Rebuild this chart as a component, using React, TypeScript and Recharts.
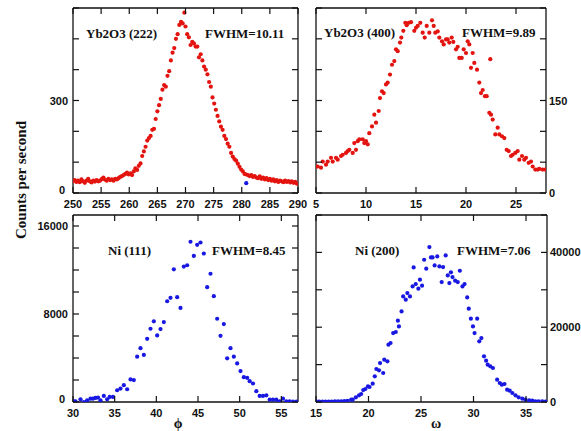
import React from 'react';
import { ScatterChart, Scatter, XAxis, YAxis } from 'recharts';

// ---------- Panel 1: Yb2O3 (222) ----------
const yb222Angle = [
  250.0, 250.3, 250.6, 250.9, 251.2, 251.5, 251.8, 252.1, 252.4, 252.7,
  253.0, 253.3, 253.6, 253.9, 254.2, 254.5, 254.8, 255.1, 255.4, 255.7,
  256.0, 256.3, 256.6, 256.9, 257.2, 257.5, 257.8, 258.1, 258.4, 258.7,
  259.0, 259.3, 259.6, 259.9, 260.2, 260.5, 260.8, 261.1, 261.4, 261.7,
  262.0, 262.3, 262.6, 262.9, 263.2, 263.5, 263.8, 264.1, 264.4, 264.7,
  265.0, 265.3, 265.6, 265.9, 266.2, 266.5, 266.8, 267.1, 267.4, 267.7,
  268.0, 268.3, 268.6, 268.9, 269.2, 269.5, 269.8, 270.0, 270.3, 270.6,
  270.9, 271.2, 271.5, 271.8, 272.1, 272.4, 272.7, 273.0, 273.3, 273.6,
  273.9, 274.2, 274.5, 274.8, 275.1, 275.4, 275.7, 276.0, 276.3, 276.6,
  276.9, 277.2, 277.5, 277.8, 278.1, 278.4, 278.7, 279.0, 279.3, 279.6,
  279.9, 280.2, 280.5, 280.8, 281.1, 281.4, 281.7, 282.0, 282.3, 282.6,
  282.9, 283.2, 283.5, 283.8, 284.1, 284.4, 284.7, 285.0, 285.3, 285.6,
  285.9, 286.2, 286.5, 286.8, 287.1, 287.4, 287.7, 288.0, 288.3, 288.6,
  288.9, 289.2, 289.5, 289.8,
];
const yb222Counts = [
  38, 42, 36, 40, 35, 44, 38, 33, 40, 46,
  38, 34, 40, 37, 42, 38, 40, 45, 50, 43,
  40, 46, 42, 44, 40, 46, 44, 48, 52, 55,
  58, 62, 66, 60, 64, 58, 70, 80, 75, 88,
  96, 120, 135, 150, 170, 178, 185, 205, 208, 240,
  265, 285, 305, 335, 350, 345, 380, 395, 430, 455,
  470, 500, 515, 545, 555, 550, 585, 540, 515, 505,
  480, 490, 485, 475, 475, 440, 450, 430, 410, 400,
  385, 360, 345, 310, 290, 270, 250, 232, 215, 205,
  185, 175, 160, 150, 130, 118, 110, 105, 95, 85,
  76, 70, 62, 60, 58, 55, 58, 52, 55, 50,
  48, 54, 46, 50, 44, 48, 42, 46, 40, 44,
  38, 42, 36, 40, 38, 35, 40, 36, 39, 34,
  38, 33, 36, 30,
];
const yb222StrayAngle = [280.8];
const yb222StrayCounts = [32];
const yb222XTicks = [250, 255, 260, 265, 270, 275, 280, 285, 290];
const yb222YTicks = [0, 100, 200, 300, 400, 500, 600];
const yb222YLabels = [0, 300];

// ---------- Panel 2: Yb2O3 (400) ----------
const yb400Angle = [
  5.0, 5.17, 5.5, 5.67, 6.0, 6.17, 6.5, 6.67, 7.0, 7.17,
  7.5, 7.67, 8.0, 8.17, 8.33, 8.67, 8.83, 9.0, 9.17, 9.33,
  9.67, 9.83, 10.0, 10.17, 10.33, 10.6, 10.83, 11.0, 11.27, 11.4,
  11.6, 11.77, 12.0, 12.17, 12.4, 12.6, 12.83, 13.0, 13.17, 13.4,
  13.53, 13.73, 13.93, 14.07, 14.27, 14.5, 14.83, 15.0, 15.17, 15.43,
  15.67, 15.87, 16.07, 16.33, 16.6, 16.77, 16.93, 17.17, 17.33, 17.6,
  17.77, 18.0, 18.17, 18.33, 18.57, 18.73, 19.0, 19.17, 19.33, 19.57,
  19.77, 20.0, 20.17, 20.33, 20.5, 20.67, 20.83, 21.1, 21.33, 21.5,
  21.67, 21.9, 22.07, 22.33, 22.43, 22.5, 22.67, 22.93, 23.17, 23.33,
  23.6, 23.83, 24.07, 24.27, 24.5, 24.67, 24.93, 25.17, 25.33, 25.6,
  25.83, 26.0, 26.27, 26.5, 26.67, 26.93, 27.17, 27.33, 27.67, 27.93,
];
const yb400Counts = [
  43, 43, 41, 51, 46, 51, 57, 51, 57, 54,
  60, 62, 65, 68, 70, 65, 81, 70, 84, 87,
  87, 81, 84, 79, 97, 108, 127, 114, 133, 154,
  165, 162, 176, 179, 192, 208, 214, 233, 230, 244,
  252, 263, 276, 272, 276, 277, 263, 268, 271, 276,
  260, 252, 271, 260, 280, 271, 260, 262, 252, 246,
  241, 249, 249, 244, 252, 245, 233, 237, 219, 219,
  233, 227, 246, 241, 203, 227, 211, 200, 179, 162,
  167, 157, 157, 130, 217, 127, 119, 95, 106, 95,
  92, 89, 70, 68, 60, 62, 65, 68, 54, 60,
  54, 57, 49, 51, 43, 38, 38, 39, 38, 38,
];
const yb400XTicks = [5, 10, 15, 20, 25];
const yb400YTicks = [0, 50, 100, 150, 200, 250, 300];
const yb400YLabels = [0, 150];

// ---------- Panel 3: Ni (111) ----------
const ni111Angle = [
  30.1, 30.3, 30.9, 31.3, 31.7, 32.1, 32.4, 32.7, 33.0, 33.3,
  33.7, 34.1, 34.4, 34.8, 35.3, 35.7, 36.1, 36.5, 36.9, 37.3,
  37.7, 38.1, 38.5, 38.9, 39.3, 39.7, 40.1, 40.5, 40.9, 41.3,
  41.7, 42.1, 42.5, 42.9, 43.3, 43.7, 44.1, 44.5, 44.9, 45.3,
  45.7, 46.1, 46.5, 46.9, 47.3, 47.7, 48.1, 48.5, 48.9, 49.3,
  49.7, 50.1, 50.5, 50.9, 51.2, 51.6, 52.0, 52.4, 52.8, 53.2,
  53.6, 54.0, 54.4, 54.8, 55.2, 55.6, 56.0, 56.4, 56.8,
];
const ni111Counts = [
  60, 60, 240, 0, 150, 300, 300, 370, 400, 150,
  550, 240, 460, 460, 1070, 1220, 1530, 1160, 2050, 1990,
  4120, 4890, 4280, 5740, 6660, 7330, 6050, 6630, 7270, 9160,
  9470, 12060, 9530, 8550, 12310, 12430, 14570, 13280, 14290, 14500,
  13500, 10440, 11660, 9620, 7570, 6020, 7080, 3970, 4890, 4120,
  3510, 2810, 2260, 2200, 1890, 1680, 980, 550, 550, 610,
  210, 210, 210, 60, 300, 60, 60, 30, 30,
];
const ni111XTicks = [30, 35, 40, 45, 50, 55];
const ni111YTicks = [0, 2000, 4000, 6000, 8000, 10000, 12000, 14000, 16000];
const ni111YLabels = [0, 8000, 16000];

// ---------- Panel 4: Ni (200) ----------
const ni200Angle = [
  15.0, 15.3, 15.6, 15.9, 16.2, 16.5, 16.8, 17.1, 17.4, 17.7,
  18.0, 18.35, 18.5, 18.8, 19.1, 19.3, 19.5, 19.7, 19.95, 20.1,
  20.4, 20.6, 20.75, 21.0, 21.1, 21.4, 21.5, 21.8, 21.9, 22.1,
  22.35, 22.6, 22.8, 22.9, 23.15, 23.3, 23.55, 23.7, 23.95, 24.2,
  24.3, 24.5, 24.75, 24.9, 25.1, 25.3, 25.5, 25.8, 25.95, 26.1,
  26.3, 26.55, 26.75, 26.97, 27.1, 27.35, 27.55, 27.7, 27.85, 28.0,
  28.25, 28.5, 28.7, 28.95, 29.15, 29.4, 29.55, 29.75, 29.95, 30.1,
  30.35, 30.55, 30.75, 31.0, 31.2, 31.35, 31.6, 31.85, 32.25, 32.5,
  32.7, 32.95, 33.2, 33.45, 33.7, 34.0, 34.3, 34.65, 34.95, 35.3,
  35.6, 35.9, 36.2, 36.55, 36.85,
];
const ni200Counts = [
  150, 120, 100, 130, 110, 140, 150, 170, 200, 240,
  300, 620, 620, 1250, 1780, 2140, 3200, 3470, 4190, 4010,
  4900, 6860, 8820, 8460, 10420, 7750, 11310, 10870, 15320, 15770,
  18440, 18710, 21740, 20220, 24230, 28240, 27350, 29130, 28240, 30910,
  35990, 31540, 30290, 32700, 31090, 38040, 35640, 41430, 38660, 38660,
  36530, 38930, 36260, 32070, 36080, 39200, 33850, 31800, 34660, 33410,
  32430, 32070, 35100, 30910, 31540, 27970, 24940, 22270, 20220, 18440,
  22270, 16210, 17100, 12200, 11050, 9980, 9530, 9090, 5970, 5080,
  4630, 4810, 3300, 3030, 2400, 1780, 1250, 890, 620, 450,
  360, 180, 180, 180, 90,
];
const ni200XTicks = [15, 20, 25, 30, 35];
const ni200YTicks = [0, 10000, 20000, 30000, 40000, 50000];
const ni200YLabels = [0, 20000, 40000];

// ---------- styling ----------
const W = 581;
const H = 431;
const RED = '#e3140f';
const BLUE = '#1818e2';
const TICK_LEN = 6;
const FRAME = { stroke: '#111', strokeWidth: 1.3 };
const TICK_FONT = {
  fontFamily: '"Liberation Sans", Arial, sans-serif',
  fontWeight: 700,
  fontSize: 11,
  fill: '#111',
};
const SERIF = '"Liberation Serif", "Times New Roman", serif';

const zip = (xs: number[], ys: number[]) => xs.map((x, i) => ({ x, y: ys[i] }));

const bottomTick = (labels: boolean) => (p: any) => (
  <g>
    <line x1={p.x} x2={p.x} y1={p.y} y2={p.y - TICK_LEN} stroke="#111" strokeWidth={1.2} />
    {labels && (
      <text x={p.x} y={p.y + 11} textAnchor="middle" dominantBaseline="central" {...TICK_FONT}>
        {p.payload.value}
      </text>
    )}
  </g>
);
const topTick = (p: any) => (
  <g>
    <line x1={p.x} x2={p.x} y1={p.y} y2={p.y + TICK_LEN} stroke="#111" strokeWidth={1.2} />
  </g>
);
const leftTick = (labels: number[]) => (p: any) => (
  <g>
    <line x1={p.x} x2={p.x + TICK_LEN} y1={p.y} y2={p.y} stroke="#111" strokeWidth={1.2} />
    {labels.includes(p.payload.value) && (
      <text
        x={p.x - (p.payload.value === 0 ? 8 : 5)}
        y={p.y - (p.payload.value === 0 ? 3 : 0)}
        textAnchor="end"
        dominantBaseline="central"
        {...TICK_FONT}
      >
        {p.payload.value}
      </text>
    )}
  </g>
);
const rightTick = (labels: number[]) => (p: any) => (
  <g>
    <line x1={p.x} x2={p.x - TICK_LEN} y1={p.y} y2={p.y} stroke="#111" strokeWidth={1.2} />
    {labels.includes(p.payload.value) && (
      <text x={p.x + 3} y={p.y} textAnchor="start" dominantBaseline="central" {...TICK_FONT}>
        {p.payload.value}
      </text>
    )}
  </g>
);

const dot = (color: string) => (p: any) => <circle cx={p.cx} cy={p.cy} r={2.1} fill={color} />;

type Series = { xs: number[]; ys: number[]; color: string };
type Box = { top: number; left: number; right: number; bottom: number };
type PanelProps = {
  series: Series[];
  xDomain: [number, number];
  yDomain: [number, number];
  xTicks: number[];
  yTicks: number[];
  yLabels: number[];
  ySide: 'left' | 'right';
  plot: Box; // plot-area edges in page pixels
};

function Panel({ series, xDomain, yDomain, xTicks, yTicks, yLabels, ySide, plot }: PanelProps) {
  // each axis is 1px thick, so the margins leave room for it
  const margin = {
    top: plot.top - 1,
    left: plot.left - 1,
    right: W - plot.right - 1,
    bottom: H - plot.bottom - 1,
  };
  return (
    <div style={{ position: 'absolute', left: 0, top: 0 }}>
      <ScatterChart width={W} height={H} margin={margin}>
        <XAxis
          xAxisId="b" type="number" dataKey="x" orientation="bottom" domain={xDomain} ticks={xTicks}
          allowDataOverflow height={1} tickSize={0} tickMargin={0} tickLine={false} axisLine={FRAME} interval={0}
          tick={bottomTick(true)}
        />
        <XAxis
          xAxisId="t" type="number" dataKey="x" orientation="top" domain={xDomain} ticks={xTicks}
          allowDataOverflow height={1} tickSize={0} tickMargin={0} tickLine={false} axisLine={FRAME} interval={0}
          tick={topTick}
        />
        <YAxis
          yAxisId="l" type="number" dataKey="y" orientation="left" domain={yDomain} ticks={yTicks}
          allowDataOverflow width={1} tickSize={0} tickMargin={0} tickLine={false} axisLine={FRAME} interval={0}
          tick={leftTick(ySide === 'left' ? yLabels : [])}
        />
        <YAxis
          yAxisId="r" type="number" dataKey="y" orientation="right" domain={yDomain} ticks={yTicks}
          allowDataOverflow width={1} tickSize={0} tickMargin={0} tickLine={false} axisLine={FRAME} interval={0}
          tick={rightTick(ySide === 'right' ? yLabels : [])}
        />
        {series.map((s, i) => (
          <Scatter
            key={i}
            data={zip(s.xs, s.ys)}
            xAxisId="b"
            yAxisId="l"
            fill={s.color}
            shape={dot(s.color)}
            isAnimationActive={false}
          />
        ))}
      </ScatterChart>
    </div>
  );
}

const titleStyle = { fontFamily: SERIF, fontWeight: 700, fontSize: 13, fill: '#111' };

export default function App() {
  return (
    <div style={{ position: 'absolute', left: 0, top: 0, width: W, height: H, background: '#fff', overflow: 'hidden' }}>
      <Panel
        series={[
          { xs: yb222Angle, ys: yb222Counts, color: RED },
          { xs: yb222StrayAngle, ys: yb222StrayCounts, color: BLUE },
        ]}
        xDomain={[250, 290]} yDomain={[0, 600]} xTicks={yb222XTicks} yTicks={yb222YTicks}
        yLabels={yb222YLabels} ySide="left"
        plot={{ top: 8, left: 73, right: 298, bottom: 193 }}
      />
      <Panel
        series={[{ xs: yb400Angle, ys: yb400Counts, color: RED }]}
        xDomain={[5, 28]} yDomain={[0, 300]} xTicks={yb400XTicks} yTicks={yb400YTicks}
        yLabels={yb400YLabels} ySide="right"
        plot={{ top: 8, left: 316, right: 546, bottom: 193 }}
      />
      <Panel
        series={[{ xs: ni111Angle, ys: ni111Counts, color: BLUE }]}
        xDomain={[30, 57]} yDomain={[0, 17000]} xTicks={ni111XTicks} yTicks={ni111YTicks}
        yLabels={ni111YLabels} ySide="left"
        plot={{ top: 215, left: 73, right: 298, bottom: 402 }}
      />
      <Panel
        series={[{ xs: ni200Angle, ys: ni200Counts, color: BLUE }]}
        xDomain={[15, 37]} yDomain={[0, 50000]} xTicks={ni200XTicks} yTicks={ni200YTicks}
        yLabels={ni200YLabels} ySide="right"
        plot={{ top: 215, left: 316, right: 547, bottom: 402 }}
      />
      <svg width={W} height={H} style={{ position: 'absolute', left: 0, top: 0, pointerEvents: 'none' }}>
        <text x={86} y={33} dominantBaseline="central" {...titleStyle}>Yb2O3 (222)</text>
        <text x={205} y={33} dominantBaseline="central" {...titleStyle}>FWHM=10.11</text>
        <text x={324} y={32} dominantBaseline="central" {...titleStyle}>Yb2O3 (400)</text>
        <text x={462} y={32} dominantBaseline="central" {...titleStyle}>FWHM=9.89</text>
        <text x={108} y={250} dominantBaseline="central" {...titleStyle}>Ni (111)</text>
        <text x={212} y={250} dominantBaseline="central" {...titleStyle}>FWHM=8.45</text>
        <text x={355} y={250} dominantBaseline="central" {...titleStyle}>Ni (200)</text>
        <text x={457} y={250} dominantBaseline="central" {...titleStyle}>FWHM=7.06</text>
        <text
          transform="translate(26,180) rotate(-90)"
          textAnchor="middle"
          style={{ fontFamily: SERIF, fontWeight: 700, fontSize: 15, fill: '#111' }}
        >
          Counts per second
        </text>
        <text x={178} y={428} textAnchor="middle" style={{ fontFamily: SERIF, fontWeight: 700, fontSize: 14, fill: '#111' }}>ϕ</text>
        <text x={436} y={428} textAnchor="middle" style={{ fontFamily: SERIF, fontWeight: 700, fontSize: 14, fill: '#111' }}>ω</text>
      </svg>
    </div>
  );
}
